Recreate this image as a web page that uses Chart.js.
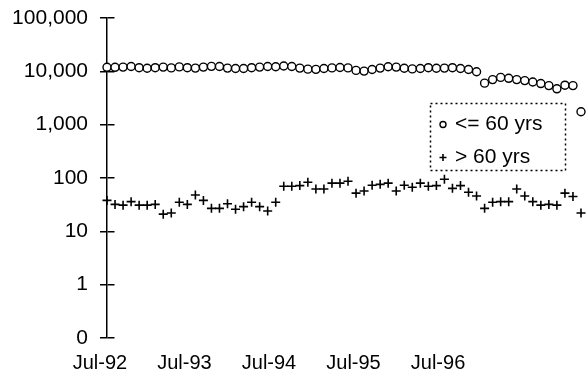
<!DOCTYPE html>
<html>
<head>
<meta charset="utf-8">
<script src="https://cdn.jsdelivr.net/npm/chart.js@4/dist/chart.umd.min.js"></script>
<style>
  html, body { margin: 0; padding: 0; background: #fff; }
  #wrap { width: 588px; height: 385px; position: relative; }
</style>
</head>
<body>
<div id="wrap"><canvas id="c" width="588" height="385"></canvas></div>
<script>
// Reporting periods, numbered in order
const periods = [
   1,  2,  3,  4,  5,  6,  7,  8,  9, 10, 11, 12,
  13, 14, 15, 16, 17, 18, 19, 20, 21, 22, 23, 24,
  25, 26, 27, 28, 29, 30, 31, 32, 33, 34, 35, 36,
  37, 38, 39, 40, 41, 42, 43, 44, 45, 46, 47, 48,
  49, 50, 51, 52, 53, 54, 55, 56, 57, 58, 59, 60
];

// Counts for the two age groups
const under60 = [
  11900, 11900, 12000, 12300, 11700, 11400, 11700, 12000, 11600, 12100, 11700, 11500,
  12000, 12400, 12300, 11500, 11300, 11300, 11700, 12000, 12300, 12200, 12600, 12300,
  11500, 11000, 10900, 11300, 11600, 11800, 11600, 10400, 10100, 10800, 11500, 12200,
  12000, 11400, 11100, 11300, 11700, 11400, 11500, 11700, 11300, 10800, 9800, 6000,
  7000, 7700, 7400, 7000, 6700, 6300, 5900, 5400, 4700, 5500, 5400, 1750
];
const over60 = [
  38, 32, 31, 36, 31, 31, 32, 21, 22, 35, 32, 48,
  38, 27, 27, 33, 26, 29, 35, 29, 24, 35, 70, 70,
  72, 83, 62, 62, 80, 80, 87, 52, 57, 73, 76, 80,
  57, 73, 67, 80, 70, 72, 95, 64, 72, 54, 46, 27,
  35, 36, 36, 62, 46, 36, 31, 32, 31, 52, 45, 22
];
const seriesNames = ["<= 60 yrs", "> 60 yrs"];

// Calendar axis: months counted from Jul-92, spanning first to last period
const monthSpan = [1, 68.3];
const xTickMonths = [0, 12, 24, 36, 48];
const xTickLabels = ["Jul-92", "Jul-93", "Jul-94", "Jul-95", "Jul-96"];

// Log axis ticks and their printed labels
const yTickValues = [0.1, 1, 10, 100, 1000, 10000, 100000];
const yTickLabels = ["0", "1", "10", "100", "1,000", "10,000", "100,000"];

const FONT = "'Liberation Sans', Arial, sans-serif";
const FONT_SIZE = 21;

// Legend drawn inside the plot with a dotted frame
const boxLegend = {
  id: 'boxLegend',
  afterDraw(chart) {
    const ctx = chart.ctx;
    const x0 = 430.5, y0 = 103.5, w = 135, h = 67;
    ctx.save();
    ctx.strokeStyle = '#000';
    ctx.lineWidth = 1.5;
    ctx.setLineDash([2, 3]);
    ctx.strokeRect(x0, y0, w, h);
    ctx.setLineDash([]);
    ctx.font = FONT_SIZE + 'px ' + FONT;
    ctx.fillStyle = '#000';
    ctx.textBaseline = 'middle';
    chart.data.datasets.forEach((ds, i) => {
      const cy = y0 + 21 + i * 33;
      ctx.lineWidth = ds.borderWidth;
      ctx.strokeStyle = '#000';
      ctx.fillStyle = ds.pointBackgroundColor;
      Chart.helpers.drawPoint(ctx, {
        pointStyle: ds.pointStyle, radius: ds.pointRadius - 1, borderWidth: ds.borderWidth
      }, 443, cy);
      ctx.fillStyle = '#000';
      ctx.fillText(ds.label, 455, cy);
    });
    ctx.restore();
  }
};

new Chart(document.getElementById('c'), {
  type: 'line',
  data: {
    labels: periods,
    datasets: [
      {
        label: seriesNames[0],
        data: under60,
        showLine: false,
        pointStyle: 'circle',
        pointRadius: 4,
        pointBorderWidth: 1.4,
        borderWidth: 1.4,
        borderColor: '#000',
        pointBorderColor: '#000',
        pointBackgroundColor: '#fff'
      },
      {
        label: seriesNames[1],
        data: over60,
        showLine: false,
        pointStyle: 'cross',
        pointRadius: 4.5,
        pointBorderWidth: 1.6,
        borderWidth: 1.6,
        borderColor: '#000',
        pointBorderColor: '#000',
        pointBackgroundColor: '#000'
      }
    ]
  },
  options: {
    responsive: false,
    animation: false,
    events: [],
    layout: { padding: { top: 18, right: 7, left: 0, bottom: 0 } },
    plugins: { legend: { display: false }, tooltip: { enabled: false } },
    scales: {
      x: {
        type: 'category',
        offset: false,
        display: false
      },
      months: {
        type: 'linear',
        position: 'bottom',
        min: monthSpan[0],
        max: monthSpan[1],
        afterBuildTicks: s => { s.ticks = xTickMonths.map(v => ({ value: v })); },
        grid: { display: false, drawTicks: false },
        border: { display: false },
        ticks: {
          autoSkip: false,
          maxRotation: 0,
          minRotation: 0,
          padding: 13,
          color: '#000',
          font: { family: FONT, size: 20 },
          callback: v => xTickLabels[xTickMonths.indexOf(v)]
        },
        afterFit: s => { s.height = 47; s.paddingLeft = 0; s.paddingRight = 0; }
      },
      y: {
        type: 'logarithmic',
        min: 0.1,
        max: 100000,
        afterBuildTicks: s => { s.ticks = yTickValues.map(v => ({ value: v })); },
        afterFit: s => { s.width = 107; s.paddingTop = 0; s.paddingBottom = 0; },
        border: { display: true, color: '#000', width: 1.5, dash: [7, 4000] },
        grid: {
          color: '#000',
          lineWidth: 1.5,
          drawOnChartArea: true,
          tickLength: 7,
          tickBorderDash: []
        },
        ticks: {
          padding: 12,
          color: '#000',
          font: { family: FONT, size: FONT_SIZE },
          callback: v => yTickLabels[yTickValues.findIndex(t => Math.abs(t - v) / t < 1e-6)]
        }
      }
    }
  },
  plugins: [boxLegend]
});
</script>
</body>
</html>
